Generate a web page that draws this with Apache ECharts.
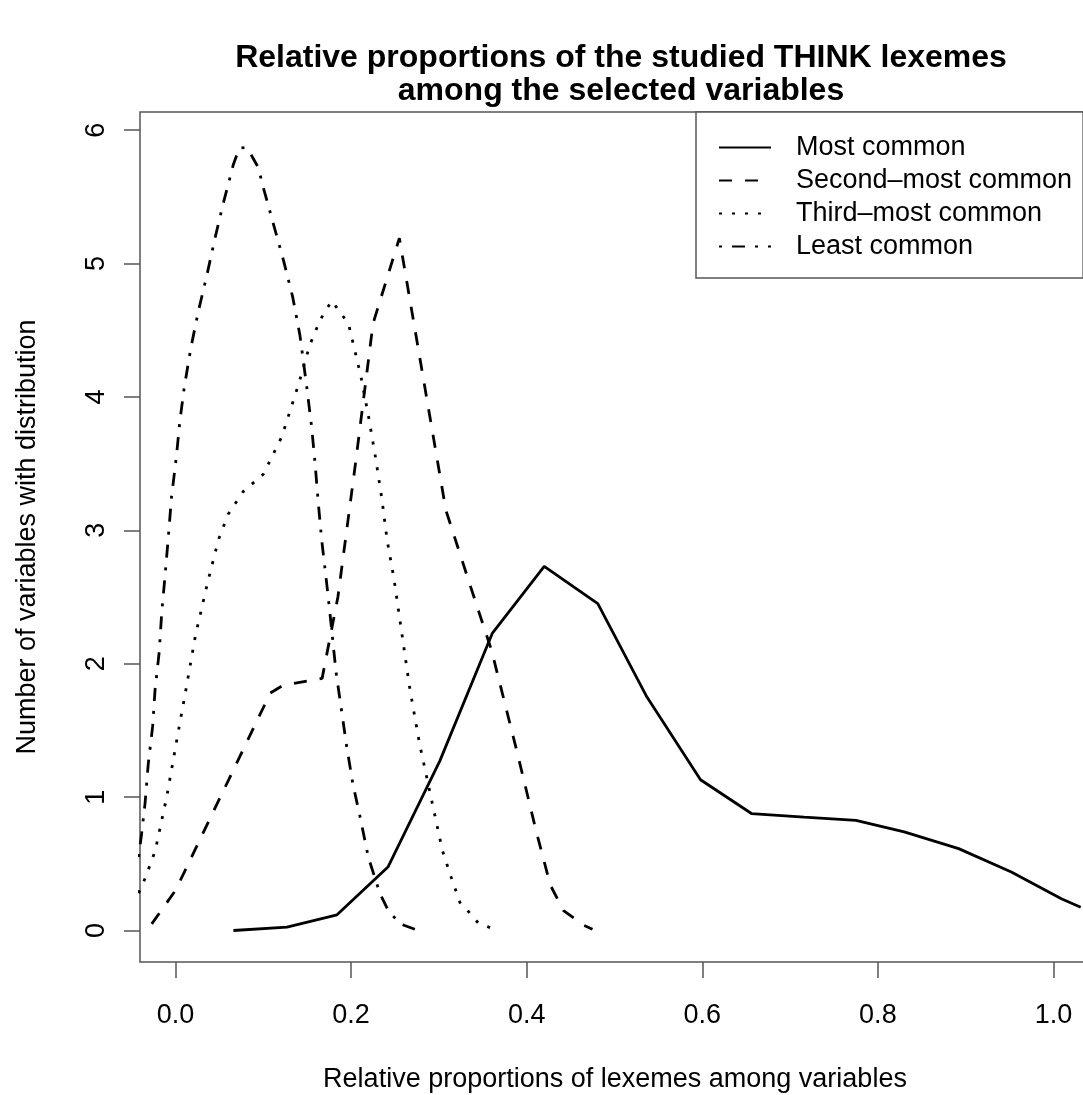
<!DOCTYPE html>
<html>
<head>
<meta charset="utf-8">
<title>Relative proportions of THINK lexemes</title>
<script src="https://cdn.jsdelivr.net/npm/echarts@6/dist/echarts.min.js"></script>
<style>
  html, body { margin: 0; padding: 0; background: #fff; }
  #chart { width: 1083px; height: 1095px; }
</style>
</head>
<body>
<div id="chart"></div>
<script>
// values, [proportion, count]
const mostCommon = [
  [0.066, 0.0], [0.127, 0.025], [0.184, 0.118], [0.242, 0.476], [0.301, 1.27],
  [0.361, 2.23], [0.420, 2.73], [0.481, 2.45], [0.537, 1.75], [0.598, 1.13],
  [0.656, 0.877], [0.716, 0.85], [0.775, 0.826], [0.830, 0.739], [0.892, 0.614],
  [0.952, 0.438], [1.009, 0.238], [1.031, 0.175]
];
const secondMost = [
  [-0.027, 0.05], [0.0, 0.30], [0.108, 1.78], [0.123, 1.84], [0.167, 1.89],
  [0.185, 2.5], [0.205, 3.5], [0.225, 4.55], [0.255, 5.19], [0.308, 3.15],
  [0.335, 2.6], [0.36, 2.1], [0.389, 1.34], [0.411, 0.74], [0.427, 0.34],
  [0.442, 0.15], [0.465, 0.04], [0.475, 0.01]
];
const thirdMost = [
  [-0.042, 0.28], [-0.034, 0.40], [-0.023, 0.60], [-0.010, 1.00], [0.001, 1.41],
  [0.012, 1.81], [0.023, 2.22], [0.037, 2.62], [0.049, 2.93], [0.060, 3.12],
  [0.077, 3.29], [0.100, 3.42], [0.121, 3.70], [0.140, 4.09], [0.153, 4.39],
  [0.165, 4.58], [0.178, 4.72], [0.197, 4.55], [0.211, 4.16], [0.220, 3.85],
  [0.228, 3.54], [0.235, 3.24], [0.241, 2.93], [0.249, 2.63], [0.258, 2.22],
  [0.267, 1.81], [0.278, 1.40], [0.291, 1.00], [0.304, 0.60], [0.314, 0.40],
  [0.324, 0.21], [0.334, 0.14], [0.345, 0.055], [0.359, 0.02]
];
const leastCommon = [
  [-0.042, 0.55], [-0.0385, 0.73], [-0.0347, 0.95], [-0.031, 1.25], [-0.026, 1.53],
  [-0.0233, 1.80], [-0.0185, 2.09], [-0.0157, 2.38], [-0.012, 2.65], [-0.008, 2.96],
  [-0.0045, 3.25], [0.001, 3.55], [0.005, 3.82], [0.010, 4.07], [0.0173, 4.36],
  [0.026, 4.64], [0.036, 4.92], [0.045, 5.19], [0.0544, 5.45], [0.0658, 5.74],
  [0.0727, 5.865], [0.079, 5.87], [0.0849, 5.83], [0.0943, 5.72], [0.100, 5.57],
  [0.1114, 5.30], [0.1228, 5.03], [0.1335, 4.75], [0.1418, 4.46], [0.1494, 4.08],
  [0.155, 3.78], [0.1589, 3.51], [0.1626, 3.21], [0.1665, 2.93], [0.174, 2.50],
  [0.183, 1.93], [0.195, 1.38], [0.202, 1.10], [0.211, 0.83], [0.2196, 0.55],
  [0.233, 0.275], [0.2424, 0.15], [0.2557, 0.05], [0.2766, 0.0]
];
const seriesNames = ['Most common', 'Second–most common', 'Third–most common', 'Least common'];
const xTicks = [0, 0.2, 0.4, 0.6, 0.8, 1.0];
const yTicks = [0, 1, 2, 3, 4, 5, 6];

const FONT = '"Liberation Sans", Arial, Helvetica, sans-serif';
const lineW = 2.8;
const dashTypes = ['solid', [13, 13], [3, 10], [3, 10, 13, 10]];
const seriesData = [mostCommon, secondMost, thirdMost, leastCommon];

const chart = echarts.init(document.getElementById('chart'), null, { renderer: 'canvas' });

const option = {
  animation: false,
  backgroundColor: '#fff',
  title: {
    text: 'Relative proportions of the studied THINK lexemes\namong the selected variables',
    left: 616,
    top: 37,
    textAlign: 'center',
    textStyle: {
      fontFamily: FONT,
      fontWeight: 'bold',
      fontSize: 32,
      lineHeight: 33,
      color: '#000'
    }
  },
  legend: {
    orient: 'vertical',
    left: 696,
    top: 112,
    padding: [22, 11, 18, 22],
    itemWidth: 52,
    itemHeight: 14,
    itemGap: 6,
    borderColor: '#555',
    borderWidth: 1.5,
    backgroundColor: '#fff',
    selectedMode: false,
    data: seriesNames,
    itemStyle: { color: 'transparent', borderColor: 'transparent', borderWidth: 0 },
    textStyle: {
      fontFamily: FONT,
      fontSize: 27,
      lineHeight: 27,
      color: '#000',
      padding: [0, 0, 0, 20]
    }
  },
  grid: {
    left: 140,
    right: -7,
    top: 112,
    bottom: 133,
    show: true,
    borderColor: '#555',
    borderWidth: 1.5,
    backgroundColor: 'transparent',
    containLabel: false,
    outerBoundsMode: 'none'
  },
  xAxis: {
    type: 'value',
    min: -0.0404,
    max: 1.0416,
    name: 'Relative proportions of lexemes among variables',
    nameLocation: 'middle',
    nameGap: 104,
    nameTextStyle: { fontFamily: FONT, fontSize: 27, color: '#000', verticalAlign: 'top' },
    axisLine: { show: false, onZero: false },
    splitLine: { show: false },
    axisTick: {
      show: true,
      inside: false,
      length: 16,
      customValues: xTicks,
      lineStyle: { color: '#555', width: 1.5 }
    },
    axisLabel: {
      customValues: xTicks,
      margin: 40,
      fontFamily: FONT,
      fontSize: 27,
      color: '#000',
      formatter: v => v.toFixed(1)
    }
  },
  yAxis: {
    type: 'value',
    min: -0.236,
    max: 6.136,
    name: 'Number of variables with distribution',
    nameLocation: 'middle',
    nameGap: 99,
    nameRotate: 90,
    nameTextStyle: { fontFamily: FONT, fontSize: 27, color: '#000' },
    axisLine: { show: false, onZero: false },
    splitLine: { show: false },
    axisTick: {
      show: true,
      inside: false,
      length: 16,
      customValues: yTicks,
      lineStyle: { color: '#555', width: 1.5 }
    },
    axisLabel: {
      customValues: yTicks,
      rotate: 90,
      margin: 30,
      fontFamily: FONT,
      fontSize: 27,
      color: '#000',
      formatter: v => String(Math.round(v))
    }
  },
  series: seriesData.map((d, i) => ({
    name: seriesNames[i],
    type: 'line',
    data: d,
    symbol: 'none',
    smooth: false,
    clip: true,
    color: '#000',
    lineStyle: { color: '#000', width: lineW, type: dashTypes[i], cap: 'butt' }
  }))
};

chart.setOption(option);
window.addEventListener('resize', () => {
  chart.resize();
});
</script>
</body>
</html>
